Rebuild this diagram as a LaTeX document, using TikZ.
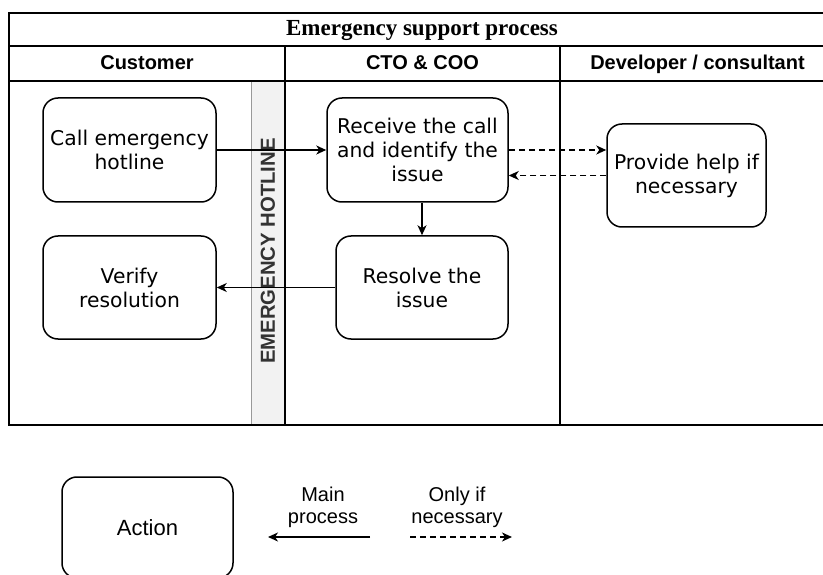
\documentclass[tikz,border=0pt]{standalone}
\usepackage{fontspec}
\setmainfont{DejaVu Sans}
\newfontfamily\headfont{Liberation Sans}
\newfontfamily\titlefont{Liberation Serif}
\usetikzlibrary{arrows.meta}

\begin{document}
\begin{tikzpicture}[x=1pt,y=-1pt,
  lane/.style={line width=2pt, draw=black},
  action/.style={draw, line width=1.5pt, rounded corners=15pt, align=center,
    font=\fontsize{20.3}{24}\selectfont, inner sep=0pt},
  flow/.style={line width=1.6pt, -{Stealth[length=10pt,width=9pt,inset=3pt]}},
  optional/.style={flow, dash pattern=on 6pt off 4pt},
  head/.style={font=\headfont\bfseries\fontsize{20}{24}\selectfont,
    text height=15pt, text depth=4pt},
  legendtext/.style={font=\headfont\fontsize{20}{22}\selectfont, align=center},
]
\clip (0,0) rectangle (823,575);

% hotline strip inside the customer lane
\fill[black!5] (251,81) rectangle (285,425);
\draw[black!40, line width=1pt] (251,81) -- (251,425);
\node[rotate=90, text=black!80, font=\headfont\bfseries\fontsize{20.3}{24}\selectfont]
  (hotline) at (268,251) {EMERGENCY HOTLINE};

% swimlane table
\draw[lane] (9,13) rectangle (835,425);
\draw[lane] (9,46) -- (835,46);
\draw[lane] (9,81) -- (835,81);
\draw[lane] (285,46) -- (285,425);
\draw[lane] (560,46) -- (560,425);

\node[font=\titlefont\bfseries\fontsize{23}{26}\selectfont, text height=16pt, text depth=5pt]
  (title) at (422,30) {Emergency support process};
\node[head] (customer) at (147,64) {Customer};
\node[head] (ctocoo) at (422.5,64) {CTO \& COO};
\node[head] (developer) at (697.5,64) {Developer / consultant};

% actions
\node[action, minimum width=173pt, minimum height=104pt] (call) at (129.5,150) {Call emergency\\hotline};
\node[action, minimum width=181pt, minimum height=104pt] (receive) at (417.5,150) {Receive the call\\and identify the\\issue};
\node[action, minimum width=172pt, minimum height=103pt] (resolve) at (422,287.5) {Resolve the\\issue};
\node[action, minimum width=173pt, minimum height=103pt] (verify) at (129.5,287.5) {Verify\\resolution};
\node[action, minimum width=159pt, minimum height=103pt] (help) at (686.5,175.5) {Provide help if\\necessary};

% connectors
\draw[flow] (call.east) -- (receive.west);
\draw[flow] (resolve.north |- receive.south) -- (resolve.north);
\draw[flow] (resolve.west) -- (verify.east);
\draw[optional] (receive.east) -- (help.west |- receive.east);
\draw[optional] (help.west) -- (receive.east |- help.west);

% legend
\node[action, font=\headfont\fontsize{22}{26}\selectfont, minimum width=171pt, minimum height=101pt] (legendaction) at (147.5,527.5) {Action};
\node[legendtext] (mainlabel) at (323,507) {Main\\process};
\node[legendtext] (optlabel) at (457,507) {Only if\\necessary};
\coordinate (mainfrom) at (370,537);
\coordinate (mainto) at (268,537);
\coordinate (optfrom) at (410,537);
\coordinate (optto) at (512,537);
\draw[flow] (mainfrom) -- (mainto);
\draw[optional] (optfrom) -- (optto);
\end{tikzpicture}
\end{document}
